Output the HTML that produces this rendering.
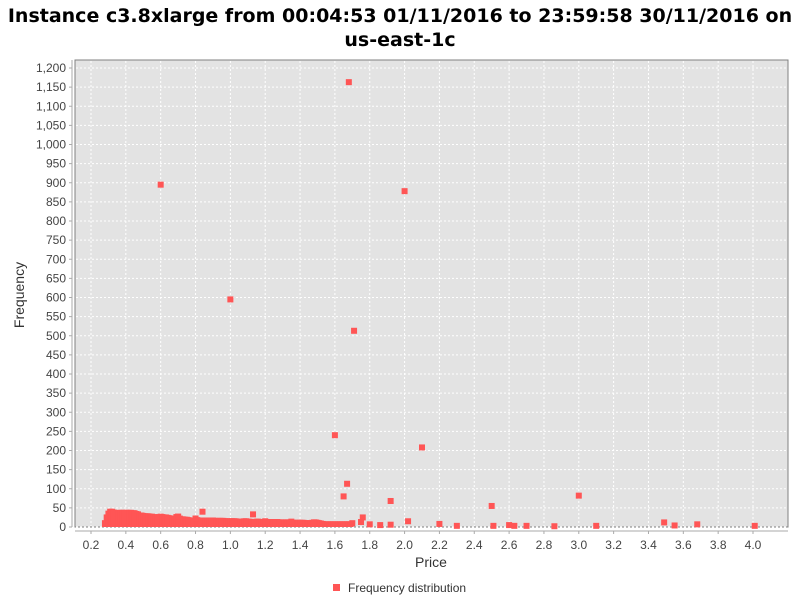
<!DOCTYPE html>
<html><head><meta charset="utf-8"><style>
body{margin:0;background:#fff;font-family:"Liberation Sans","DejaVu Sans",sans-serif}
svg text{font-family:"Liberation Sans","DejaVu Sans",sans-serif}
</style></head><body>
<svg id="chart" width="800" height="600">
<text x="400" y="22" text-anchor="middle" font-size="19" font-weight="bold" fill="#000" style="font-family:'DejaVu Sans',sans-serif">Instance c3.8xlarge from 00:04:53 01/11/2016 to 23:59:58 30/11/2016 on</text>
<text x="400" y="46" text-anchor="middle" font-size="19" font-weight="bold" fill="#000" style="font-family:'DejaVu Sans',sans-serif">us-east-1c</text>
<rect x="75" y="60" width="713" height="467" fill="#e3e3e3" stroke="#808080"/>
<g id="grid"></g><g id="axes"></g><g id="marks"></g>
<text x="24" y="295" transform="rotate(-90 24 295)" text-anchor="middle" font-size="14" fill="#333">Frequency</text>
<text x="431" y="567" text-anchor="middle" font-size="14" fill="#333">Price</text>
<g><rect x="333" y="584" width="7" height="7" fill="#ff5555"/><text x="348" y="592" font-size="12" fill="#333">Frequency distribution</text></g>
</svg>
<script>
const clusterStart=0.28, clusterStep=0.01;
const clusterFreq=[10,25,35,40,40,38,36,36,37,37,37,37,37,37,37,37,36,36,34,33,30,30,29,28,28,28,27,27,26,25,24,26,27,26,25,25,24,23,22,22,21,26,27,22,20,20,19,19,18,17,17,17,22,18,17,17,17,17,17,17,17,17,17,16,16,16,16,16,16,15,15,15,15,15,15,15,14,14,14,14,15,15,14,14,13,13,13,14,14,13,13,13,13,12,13,13,13,13,13,13,12,12,12,12,12,12,12,11,11,11,11,11,11,11,11,10,10,10,10,11,12,12,11,10,9,8,7,7,7,7,7,7,7,7,7,7,7,7,7,7,7,7];
const outX=[0.6,1.0,1.68,2.0,1.71,1.6,2.1,1.67,1.65,1.92,2.5,3.0,0.84,1.13,1.76,2.02,1.7,1.75,1.8,1.86,1.92,2.2,2.3,2.51,2.6,2.63,2.7,2.86,3.1,3.49,3.55,3.68,4.01,0.7,0.8,1.2,1.35,1.48];
const outY=[895,595,1163,878,513,240,208,113,80,68,55,82,40,33,25,15,10,13,7,5,6,8,3,3,5,3,3,2,3,12,4,7,3,27,22,15,14,12];
const yTicks=[0,50,100,150,200,250,300,350,400,450,500,550,600,650,700,750,800,850,900,950,1000,1050,1100,1150,1200];
const xTicks=[0.2,0.4,0.6,0.8,1.0,1.2,1.4,1.6,1.8,2.0,2.2,2.4,2.6,2.8,3.0,3.2,3.4,3.6,3.8,4.0];
const NS="http://www.w3.org/2000/svg";
const X=v=>91+(v-0.2)*(662/3.8), Y=v=>527-v*(459/1200);
function mk(t,a,p){const e=document.createElementNS(NS,t);for(const k in a)e.setAttribute(k,a[k]);p.appendChild(e);return e;}
const grid=document.getElementById('grid'),axes=document.getElementById('axes'),marks=document.getElementById('marks');
mk('line',{x1:72,y1:60,x2:72,y2:527,stroke:'#aaa'},axes);
mk('line',{x1:75,y1:531,x2:788,y2:531,stroke:'#aaa'},axes);
yTicks.forEach(v=>{const y=Y(v);
 mk('line',{x1:76,x2:787,y1:y,y2:y,stroke:'#fff','stroke-dasharray':'2,2'},grid);
 mk('line',{x1:69,x2:72,y1:y,y2:y,stroke:'#aaa'},axes);
 const t=mk('text',{x:66,y:y+4,'text-anchor':'end','font-size':12,fill:'#444'},axes);
 t.textContent=v.toLocaleString('en-US');
 
 });
xTicks.forEach(v=>{const x=X(v);
 mk('line',{x1:x,x2:x,y1:61,y2:526,stroke:'#fff','stroke-dasharray':'2,2'},grid);
 mk('line',{x1:x,x2:x,y1:531,y2:534,stroke:'#aaa'},axes);
 const t=mk('text',{x:x,y:549,'text-anchor':'middle','font-size':12,fill:'#444'},axes);
 t.textContent=v.toFixed(1);
 
 });
function pt(x,y){const r=mk('rect',{x:X(x)-3,y:Y(y)-3,width:6,height:6,fill:'#ff5555'},marks);
 
 }
// dense cluster: many low-frequency points stack into a solid column down to baseline
clusterFreq.forEach((f,i)=>{const x=clusterStart+i*clusterStep;
 const c=mk('rect',{x:X(x)-3,y:Y(f)-3,width:6,height:Math.max(0,527-(Y(f)-3)),fill:'#ff5555'},marks);
 
 });
outX.forEach((x,i)=>pt(x,outY[i]));
</script>
</body></html>
